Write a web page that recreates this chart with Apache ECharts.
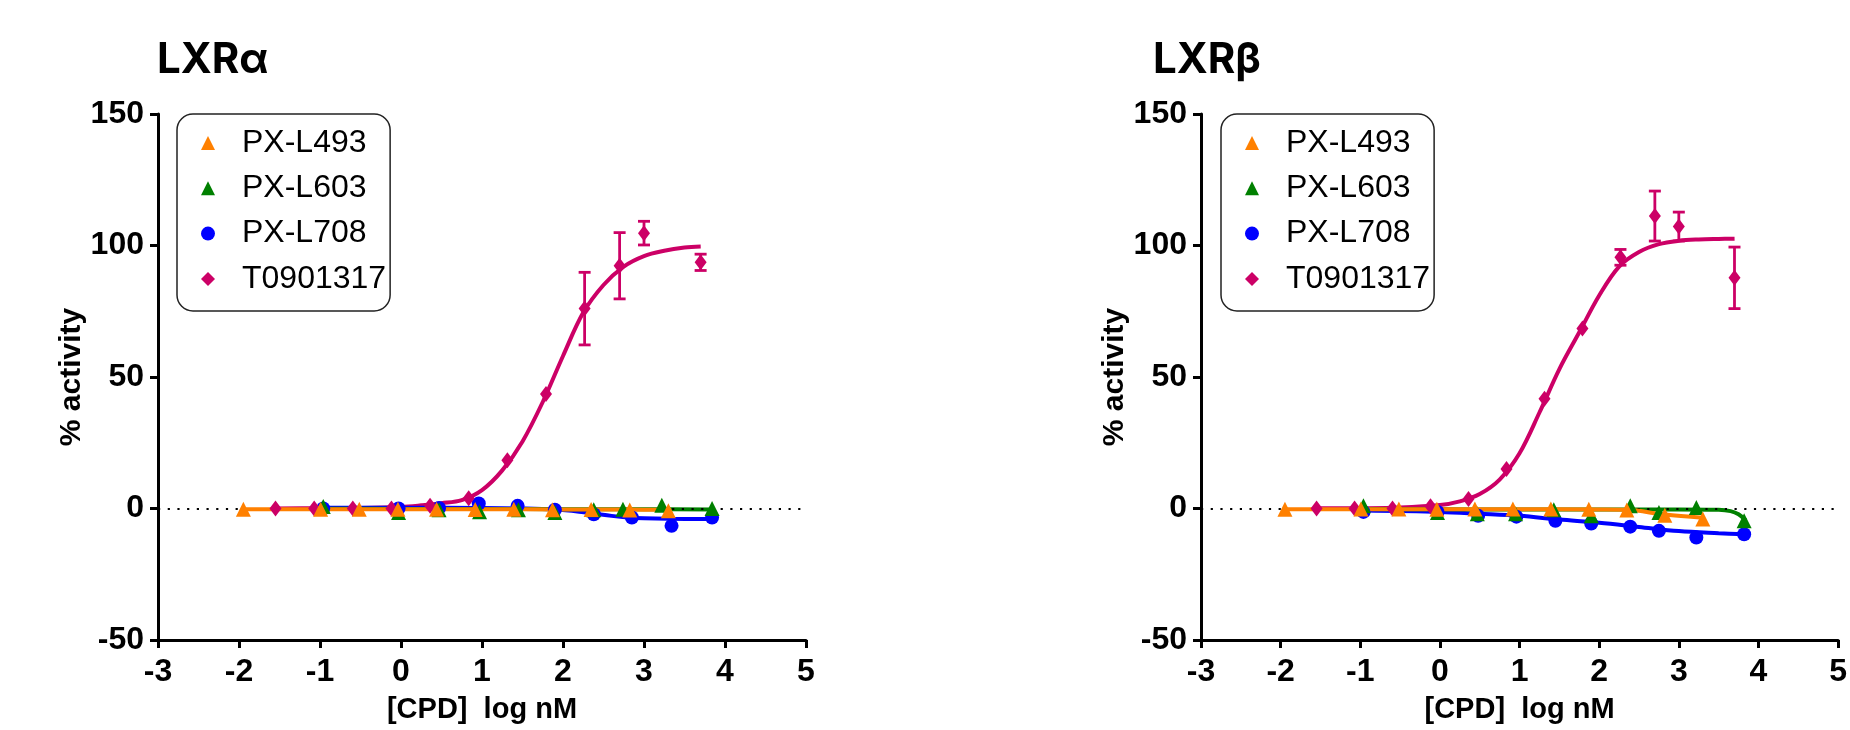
<!DOCTYPE html>
<html>
<head>
<meta charset="utf-8">
<script src="https://cdn.jsdelivr.net/npm/echarts@6/dist/echarts.min.js"></script>
<style>
html,body{margin:0;padding:0;background:#fff;}
#chart{width:1850px;height:730px;}
</style>
</head>
<body>
<div id="chart"></div>
<script>
// ---------- Data (log nM, % activity) ----------
const seriesNames = ['PX-L493', 'PX-L603', 'PX-L708', 'T0901317'];
const xTickMin = -3, xTickMax = 5, yTickMin = -50, yTickMax = 150;

// LXRα panel
const a_L493_x = [-1.946, -0.992, -0.515, -0.038, 0.439, 0.916, 1.393, 1.870, 2.347, 2.824, 3.301];
const a_L493_y = [-0.3, -0.3, -0.3, -0.3, -0.3, -0.4, -0.3, -0.5, -0.4, -0.6, -0.9];
const a_L493_fitX = [-1.946, -1, 0, 1, 2, 2.8, 3.301];
const a_L493_fitY = [-0.3, -0.3, -0.3, -0.3, -0.35, -0.4, -0.5];

const a_L603_x = [-0.96, -0.03, 0.47, 0.97, 1.45, 1.90, 2.38, 2.74, 3.22, 3.84];
const a_L603_y = [0.8, -1.5, -0.5, -1.2, -0.5, -1.5, -0.5, -0.3, 1.2, 0.0];
const a_L603_fitX = [-0.96, 0, 1, 2, 3, 3.84];
const a_L603_fitY = [-0.1, -0.15, -0.2, -0.25, -0.3, -0.35];

const a_L708_x = [-0.96, -0.03, 0.47, 0.96, 1.44, 1.90, 2.38, 2.85, 3.34, 3.84];
const a_L708_y = [0.0, 0.0, 0.2, 1.9, 1.0, -0.5, -2.2, -3.4, -6.6, -3.4];
const a_L708_fitX = [-0.96, 0, 1, 1.5, 1.9, 2.2, 2.4, 2.6, 2.8, 3.0, 3.3, 3.84];
const a_L708_fitY = [0.3, 0.3, 0.2, 0.0, -0.4, -1.2, -2.0, -2.8, -3.4, -3.7, -3.9, -4.0];

const a_T09_x = [-1.549, -1.072, -0.595, -0.118, 0.359, 0.836, 1.313, 1.790, 2.267, 2.699, 3.000, 3.699];
const a_T09_y = [0.0, 0.0, 0.0, 0.0, 1.0, 3.9, 18.3, 43.5, 76.0, 92.3, 104.7, 93.6];
const a_T09_err = [0, 0, 0, 0, 0, 0, 0, 0, 13.8, 12.6, 4.5, 3.1];
const a_T09_fitX = [-1.55, -1, -0.5, 0, 0.25, 0.5, 0.75, 1, 1.25, 1.5, 1.75, 2, 2.25, 2.5, 2.75, 3, 3.25, 3.5, 3.7];
const a_T09_fitY = [0.0, 0.1, 0.2, 0.6, 1.2, 2.0, 3.2, 7.0, 14.5, 25.5, 40.5, 58, 74.5, 85, 92, 96, 98, 99.2, 99.6];

// LXRβ panel
const b_L493_x = [-1.946, -0.992, -0.515, -0.038, 0.439, 0.916, 1.393, 1.870, 2.347, 2.824, 3.301];
const b_L493_y = [-0.3, -0.2, -0.2, -0.3, -0.2, -0.2, -0.2, -0.3, -0.6, -2.6, -4.0];
const b_L493_fitX = [-1.946, -1, 0, 1, 2, 2.347, 2.824, 3.301];
const b_L493_fitY = [-0.3, -0.3, -0.3, -0.3, -0.35, -0.5, -2.3, -3.5];

const b_L603_x = [-0.96, -0.03, 0.47, 0.95, 1.43, 1.90, 2.39, 2.75, 3.22, 3.82];
const b_L603_y = [1.0, -1.5, -2.0, -2.0, -0.5, -2.8, 1.0, -1.5, 0.4, -4.7];
const b_L603_fitX = [-0.96, 0, 1, 2, 3, 3.5, 3.65, 3.75, 3.84];
const b_L603_fitY = [-0.2, -0.3, -0.4, -0.4, -0.4, -0.5, -1.0, -2.2, -4.5];

const b_L708_x = [-0.96, -0.03, 0.48, 0.96, 1.45, 1.90, 2.39, 2.75, 3.22, 3.82];
const b_L708_y = [-1.3, -1.3, -2.8, -3.1, -4.7, -5.7, -6.9, -8.5, -11.0, -9.8];
const b_L708_fitX = [-0.96, 0, 0.5, 1, 1.5, 2, 2.5, 3, 3.5, 3.84];
const b_L708_fitY = [-0.8, -1.3, -2.0, -2.8, -4.2, -5.4, -7.0, -8.6, -9.4, -9.8];

const b_T09_x = [-1.549, -1.072, -0.595, -0.118, 0.359, 0.836, 1.313, 1.790, 2.267, 2.699, 3.000, 3.699];
const b_T09_y = [0.0, 0.0, 0.0, 0.9, 3.6, 15.0, 41.7, 68.4, 95.5, 111.2, 107.2, 87.7];
const b_T09_err = [0, 0, 0, 0, 0, 0, 0, 0, 3.0, 9.5, 5.5, 11.7];
const b_T09_fitX = [-1.55, -1, -0.5, 0, 0.25, 0.5, 0.75, 1, 1.25, 1.5, 1.75, 2, 2.25, 2.5, 2.75, 3, 3.25, 3.5, 3.7];
const b_T09_fitY = [0.05, 0.1, 0.35, 1.3, 2.7, 5.5, 11, 21, 36.5, 53, 67, 81, 92, 97.5, 100.5, 101.8, 102.3, 102.5, 102.6];

// ---------- Styling ----------
const COLORS = {'PX-L493': '#FF8000', 'PX-L603': '#008000', 'PX-L708': '#0000FF', 'T0901317': '#CC0066'};
const SYMBOLS = {'PX-L493': 'triangle', 'PX-L603': 'triangle', 'PX-L708': 'circle', 'T0901317': 'diamond'};
const SIZES = {'PX-L493': 15, 'PX-L603': 15, 'PX-L708': 14, 'T0901317': [12, 16]};
const FONT = '"Liberation Sans", Arial, Helvetica, sans-serif';

function pts(xs, ys) { return xs.map((x, i) => [x, ys[i]]); }

function pointSeries(name, xs, ys, gi, z) {
  return {
    type: 'scatter', name: name, xAxisIndex: gi, yAxisIndex: gi,
    data: pts(xs, ys), symbol: SYMBOLS[name], symbolSize: SIZES[name],
    itemStyle: {color: COLORS[name], opacity: 1}, z: z, silent: true
  };
}
function fitSeries(name, xs, ys, gi, z, extra) {
  const s = {
    type: 'line', name: name + ' fit', xAxisIndex: gi, yAxisIndex: gi,
    data: pts(xs, ys), showSymbol: false, symbol: 'none', smooth: 0.35,
    lineStyle: {color: COLORS[name], width: 4}, z: z, silent: true
  };
  return Object.assign(s, extra || {});
}
function errSeries(name, xs, ys, es, gi, z) {
  const color = COLORS[name];
  return {
    type: 'custom', name: name + ' err', xAxisIndex: gi, yAxisIndex: gi, z: z, silent: true,
    data: xs.map((x, i) => [x, ys[i], es[i]]).filter(d => d[2] > 0),
    encode: {x: 0, y: 1},
    renderItem: function (params, api) {
      const x = api.value(0), y = api.value(1), e = api.value(2);
      const t = api.coord([x, y + e]), b = api.coord([x, y - e]);
      const w = 6, st = {stroke: color, lineWidth: 2.8};
      return {type: 'group', children: [
        {type: 'line', shape: {x1: t[0], y1: t[1], x2: b[0], y2: b[1]}, style: st},
        {type: 'line', shape: {x1: t[0] - w, y1: t[1], x2: t[0] + w, y2: t[1]}, style: st},
        {type: 'line', shape: {x1: b[0] - w, y1: b[1], x2: b[0] + w, y2: b[1]}, style: st}
      ]};
    }
  };
}
const zeroLine = {
  silent: true, symbol: 'none', label: {show: false},
  lineStyle: {color: '#000', width: 2.2, type: [2.2, 7.5]},
  data: [{yAxis: 0}]
};

function panelSeries(gi, d) {
  return [
    fitSeries('T0901317', d.T09fx, d.T09fy, gi, 2, {markLine: zeroLine}),
    errSeries('T0901317', d.T09x, d.T09y, d.T09e, gi, 3),
    fitSeries('PX-L708', d.L708fx, d.L708fy, gi, 4),
    fitSeries('PX-L603', d.L603fx, d.L603fy, gi, 4),
    fitSeries('PX-L493', d.L493fx, d.L493fy, gi, 5),
    pointSeries('PX-L493', d.L493x, d.L493y, gi, 9),
    pointSeries('PX-L603', d.L603x, d.L603y, gi, 7),
    pointSeries('PX-L708', d.L708x, d.L708y, gi, 6),
    pointSeries('T0901317', d.T09x, d.T09y, gi, 8)
  ];
}

const left = {
  L493x: a_L493_x, L493y: a_L493_y, L493fx: a_L493_fitX, L493fy: a_L493_fitY,
  L603x: a_L603_x, L603y: a_L603_y, L603fx: a_L603_fitX, L603fy: a_L603_fitY,
  L708x: a_L708_x, L708y: a_L708_y, L708fx: a_L708_fitX, L708fy: a_L708_fitY,
  T09x: a_T09_x, T09y: a_T09_y, T09e: a_T09_err, T09fx: a_T09_fitX, T09fy: a_T09_fitY
};
const right = {
  L493x: b_L493_x, L493y: b_L493_y, L493fx: b_L493_fitX, L493fy: b_L493_fitY,
  L603x: b_L603_x, L603y: b_L603_y, L603fx: b_L603_fitX, L603fy: b_L603_fitY,
  L708x: b_L708_x, L708y: b_L708_y, L708fx: b_L708_fitX, L708fy: b_L708_fitY,
  T09x: b_T09_x, T09y: b_T09_y, T09e: b_T09_err, T09fx: b_T09_fitX, T09fy: b_T09_fitY
};

const axisLineStyle = {color: '#000', width: 3};
function xAxis(gi) {
  return {
    type: 'value', gridIndex: gi, min: xTickMin, max: xTickMax, interval: 1,
    name: '[CPD]  log nM', nameLocation: 'middle', nameGap: 55,
    nameTextStyle: {fontFamily: FONT, fontWeight: 'bold', fontSize: 29, color: '#000'},
    axisLine: {show: true, onZero: false, lineStyle: axisLineStyle},
    axisTick: {show: true, length: 8, lineStyle: {color: '#000', width: 3}},
    axisLabel: {margin: 16, fontFamily: FONT, fontWeight: 'bold', fontSize: 32, color: '#000', showMaxLabel: true, showMinLabel: true},
    splitLine: {show: false}
  };
}
function yAxis(gi) {
  return {
    type: 'value', gridIndex: gi, min: yTickMin, max: yTickMax, interval: 50,
    name: '% activity', nameLocation: 'middle', nameGap: 53, nameRotate: 90,
    nameTextStyle: {fontFamily: FONT, fontWeight: 'bold', fontSize: 30, color: '#000'},
    axisLine: {show: true, onZero: false, lineStyle: axisLineStyle},
    axisTick: {show: true, length: 8, lineStyle: {color: '#000', width: 3}},
    axisLabel: {margin: 14, fontFamily: FONT, fontWeight: 'bold', fontSize: 32, color: '#000'},
    splitLine: {show: false}
  };
}
function legend(leftPx) {
  return {
    left: leftPx, top: 114, orient: 'vertical',
    data: seriesNames.map(n => ({name: n, icon: SYMBOLS[n], itemStyle: {color: COLORS[n]}})),
    itemWidth: 14, itemHeight: 14, itemGap: 9.3,
    padding: [11, 4, 14, 24],
    borderColor: '#222', borderWidth: 1.5, borderRadius: 16, backgroundColor: '#fff',
    selectedMode: false,
    textStyle: {fontFamily: FONT, fontSize: 32, color: '#000', lineHeight: 36, padding: [0, 0, 0, 22]}
  };
}

const chart = echarts.init(document.getElementById('chart'), null, {renderer: 'canvas'});
chart.setOption({
  backgroundColor: '#fff',
  animation: false,
  title: [
    {text: 'LXRα', left: 157, top: 39, padding: 0, textStyle: {fontFamily: 'Inter, "Noto Sans", sans-serif', fontWeight: 'bold', fontSize: 42, color: '#000'}},
    {text: 'LXRβ', left: 1153, top: 39, padding: 0, textStyle: {fontFamily: 'Inter, "Noto Sans", sans-serif', fontWeight: 'bold', fontSize: 42, color: '#000'}}
  ],
  grid: [
    {left: 158, top: 114, width: 648, height: 526},
    {left: 1201, top: 114, width: 647, height: 526}
  ],
  xAxis: [xAxis(0), xAxis(1)],
  yAxis: [yAxis(0), yAxis(1)],
  legend: [legend(177), legend(1221)],
  series: panelSeries(0, left).concat(panelSeries(1, right))
});
</script>
</body>
</html>
